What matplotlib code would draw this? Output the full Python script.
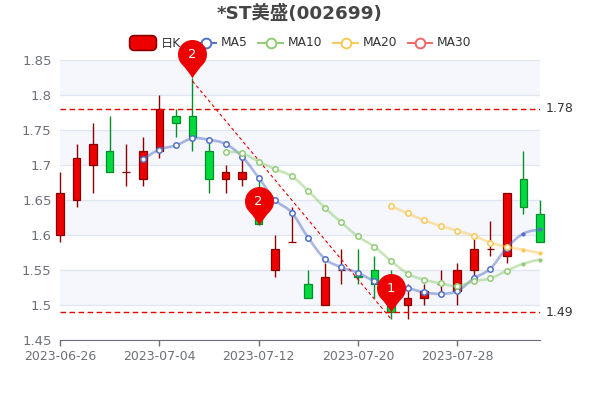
import matplotlib
matplotlib.use('Agg')
import matplotlib.pyplot as plt
import numpy as np
from matplotlib.lines import Line2D
from matplotlib.patches import FancyBboxPatch, PathPatch
from matplotlib.path import Path

dates = ['2023-06-26', '2023-07-04', '2023-07-12', '2023-07-20', '2023-07-28']
date_pos = [0, 6, 12, 18, 24]

opens = [1.60, 1.65, 1.70, 1.72, 1.69, 1.68, 1.72, 1.77, 1.77, 1.72,
         1.68, 1.68, 1.65, 1.55, 1.59, 1.53, 1.50, 1.55, 1.541, 1.55,
         1.51, 1.50, 1.51, 1.53, 1.52, 1.55, 1.58, 1.57, 1.68, 1.63]
closes = [1.66, 1.71, 1.73, 1.69, 1.69, 1.72, 1.78, 1.76, 1.74, 1.68,
          1.69, 1.69, 1.615, 1.58, 1.59, 1.51, 1.54, 1.55, 1.54, 1.53,
          1.49, 1.51, 1.52, 1.53, 1.55, 1.58, 1.58, 1.66, 1.64, 1.59]
lows = [1.59, 1.64, 1.66, 1.69, 1.67, 1.67, 1.71, 1.74, 1.72, 1.66,
        1.66, 1.67, 1.615, 1.54, 1.59, 1.51, 1.50, 1.53, 1.53, 1.51,
        1.48, 1.48, 1.50, 1.52, 1.50, 1.54, 1.57, 1.56, 1.63, 1.59]
highs = [1.69, 1.73, 1.76, 1.77, 1.73, 1.74, 1.80, 1.78, 1.824, 1.74,
         1.70, 1.71, 1.68, 1.60, 1.64, 1.55, 1.56, 1.58, 1.58, 1.57,
         1.55, 1.53, 1.53, 1.55, 1.56, 1.60, 1.62, 1.66, 1.72, 1.65]

ma5_x = list(range(5, 30))
ma5 = [1.708, 1.722, 1.728, 1.738, 1.736, 1.73, 1.712, 1.682, 1.65, 1.632,
       1.596, 1.566, 1.554, 1.546, 1.534, 1.526, 1.524, 1.518, 1.516, 1.52,
       1.538, 1.552, 1.582, 1.602, 1.608]
ma10_x = list(range(10, 30))
ma10 = [1.719, 1.717, 1.705, 1.694, 1.684, 1.663, 1.639, 1.618, 1.598, 1.583,
        1.563, 1.545, 1.536, 1.531, 1.527, 1.534, 1.538, 1.549, 1.559, 1.565]
ma20_x = list(range(20, 30))
ma20 = [1.641, 1.631, 1.621, 1.613, 1.606, 1.599, 1.589, 1.583, 1.579, 1.574]

pin_x = [8, 12, 20]
pin_y = [1.824, 1.614, 1.49]
pin_text = ['2', '2', '1']
hlines = [1.78, 1.49]
trend_x = [8, 20]
trend_y = [1.82, 1.48]

RED = '#ec0000'
RED_DARK = '#8a0000'
GREEN = '#00da3c'
GREEN_DARK = '#008f28'
BLUE = '#5470c6'
LIME = '#91cc75'
YELLOW = '#fac858'
PINK = '#ee6666'
TXT = '#333333'
AXIS = '#6e7079'

plt.rcParams['font.family'] = ['DejaVu Sans', 'Noto Sans CJK SC']


def fx(x):
    return x / 600


def fy(y):
    return 1 - y / 400


def smooth_path(xs, ys):
    """ Bezier curve through the points, like a smooth line. """
    pts = np.column_stack([xs, ys])
    verts = [pts[0]]
    codes = [Path.MOVETO]
    for i in range(len(pts) - 1):
        p0 = pts[max(i - 1, 0)]
        p1 = pts[i]
        p2 = pts[i + 1]
        p3 = pts[min(i + 2, len(pts) - 1)]
        verts += [p1 + (p2 - p0) * 0.18, p2 - (p3 - p1) * 0.18, p2]
        codes += [Path.CURVE4] * 3
    return Path(verts, codes)


def pin_marker():
    """ Map pin with the tip at the origin. """
    r = 14.5
    cy = 24
    t = np.radians(np.linspace(-38, 218, 40))
    verts = [(0, 0)]
    codes = [Path.MOVETO]
    side_x, side_y = r * np.cos(t[0]), cy + r * np.sin(t[0])
    verts += [(3, 6), (side_x, side_y)]
    codes += [Path.CURVE3, Path.CURVE3]
    for a in t[1:]:
        verts.append((r * np.cos(a), cy + r * np.sin(a)))
        codes.append(Path.LINETO)
    verts += [(-3, 6), (0, 0)]
    codes += [Path.CURVE3, Path.CURVE3]
    return Path(verts, codes)


fig = plt.figure(figsize=(6, 4), dpi=100)
ax = fig.add_axes([fx(60), fy(340), 480 / 600, 280 / 400])
ax.patch.set_alpha(0)
ax.set_xlim(0, 29)
ax.set_ylim(1.45, 1.85)

# bands and grid
yticks = np.arange(1.45, 1.851, 0.05)
for i in range(1, 8, 2):
    ax.axhspan(yticks[i], yticks[i + 1], color='#f5f7fc', lw=0, zorder=0)
ax.set_yticks(yticks)
ax.set_yticklabels(['1.45', '1.5', '1.55', '1.6', '1.65', '1.7', '1.75', '1.8', '1.85'])
ax.set_xticks(date_pos)
ax.set_xticklabels(dates)
ax.grid(axis='y', color='#e0e6f1', lw=1)
ax.set_axisbelow(True)
for s in ['top', 'left', 'right']:
    ax.spines[s].set_visible(False)
ax.spines['bottom'].set_color(AXIS)
ax.tick_params(axis='y', length=0, pad=6, labelsize=9.5, labelcolor=AXIS)
ax.tick_params(axis='x', length=4, width=1, color=AXIS, pad=3, labelsize=9, labelcolor=AXIS)

# candles
idx = np.arange(len(opens))
o = np.array(opens)
c = np.array(closes)
up = c >= o
for mask, face, edge in [(up, RED, RED_DARK), (~up, GREEN, GREEN_DARK)]:
    ax.vlines(idx[mask], np.array(lows)[mask], np.array(highs)[mask], color=edge, lw=1,
              zorder=3, clip_on=False)
    ax.bar(idx[mask], (c - o)[mask], bottom=o[mask], width=0.46, color=face, edgecolor=edge,
           lw=0.9, zorder=4, clip_on=False)

# moving averages
for xs, ys, col in [(ma5_x, ma5, BLUE), (ma10_x, ma10, LIME), (ma20_x, ma20, YELLOW)]:
    ax.add_patch(PathPatch(smooth_path(xs, ys), fill=False, edgecolor=col, lw=1.9, alpha=0.5,
                           zorder=5, clip_on=False))
    ax.plot(xs[:-2], ys[:-2], ls='none', marker='o', ms=3.9, mfc='white', mec=col, mew=1.1,
            zorder=6, clip_on=False)
    ax.plot(xs[-2:], ys[-2:], ls='none', marker='o', ms=3, mfc=col, mec=col, mew=0,
            zorder=6, clip_on=False)

# mark lines
for v in hlines:
    ax.plot([0, 29], [v, v], color='#e60000', lw=1, dashes=(4, 2.5), zorder=5)
    ax.annotate(str(v), (1.0, v), xycoords=ax.get_yaxis_transform(), xytext=(4, 0),
                textcoords='offset points', color=TXT, fontsize=9, va='center', ha='left')
ax.plot(trend_x, trend_y, color='#e60000', lw=0.8, dashes=(3, 2.5), zorder=5, clip_on=False)

# pins
ax.plot(pin_x, pin_y, ls='none', marker=pin_marker(), ms=55.4, mfc=RED, mew=0, zorder=8,
        clip_on=False)
for px, py, s in zip(pin_x, pin_y, pin_text):
    ax.annotate(s, (px, py), xytext=(0, 24 * 0.72), textcoords='offset points', ha='center',
                va='center', color='white', fontsize=9.5, zorder=9)

# title and legend are under the axes so the first pin covers them
fig.text(0.5, fy(14), '*ST美盛(002699)', ha='center', va='center', fontsize=13.2,
         fontweight='bold', color='#464646', zorder=-1)

leg_y = 43
fig.add_artist(FancyBboxPatch((fx(132), fy(48)), fx(22), 10 / 400,
                              boxstyle='round,pad=0.004,rounding_size=0.008', mutation_aspect=1.5,
                              transform=fig.transFigure, fc=RED, ec=RED_DARK, lw=1.2, zorder=-1))
fig.text(fx(161), fy(leg_y), '日K', ha='left', va='center', fontsize=8.8, color=TXT, zorder=-1)
for x0, x1, col, name in [(195, 216, BLUE, 'MA5'), (258, 283, LIME, 'MA10'),
                          (333, 358, YELLOW, 'MA20'), (408, 432, PINK, 'MA30')]:
    xm = (x0 + x1) / 2
    fig.add_artist(Line2D([fx(x0), fx(x1)], [fy(leg_y), fy(leg_y)], transform=fig.transFigure,
                          color=col, lw=1.4, zorder=-1))
    fig.add_artist(Line2D([fx(xm)], [fy(leg_y)], transform=fig.transFigure, marker='o', ms=7,
                          mfc='white', mec=col, mew=1.4, zorder=-1))
    fig.text(fx(x1 + 5), fy(leg_y), name, ha='left', va='center', fontsize=8.8, color=TXT, zorder=-1)

fig.savefig('out.png', dpi=100)
